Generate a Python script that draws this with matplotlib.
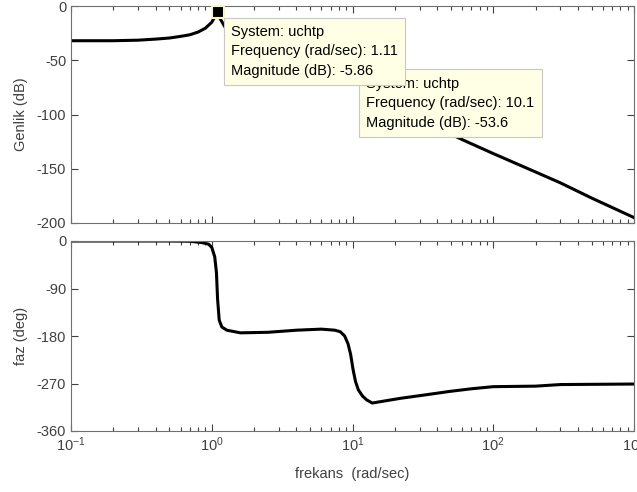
import matplotlib
matplotlib.use("Agg")
import matplotlib.pyplot as plt
import matplotlib.ticker as mticker

plt.rcParams['font.family'] = ['Liberation Sans', 'DejaVu Sans']
plt.rcParams['mathtext.fontset'] = 'custom'
plt.rcParams['mathtext.rm'] = 'Liberation Sans'
plt.rcParams['mathtext.it'] = 'Liberation Sans'
plt.rcParams['axes.unicode_minus'] = False

# magnitude response (rad/sec, dB)
mag_freq = [0.1, 0.2, 0.3, 0.4, 0.5, 0.6, 0.7, 0.8, 0.9, 1.0, 1.05, 1.11,
            1.15, 1.25, 1.5, 2, 3, 5, 7, 10.1, 15, 25, 40, 61, 100, 200,
            300, 500, 1000]
mag_db = [-32, -32, -31.5, -30.5, -29.5, -28, -26.5, -24, -20.5, -15, -10,
          -5.86, -12, -20, -28, -33, -38, -45, -49, -53.6, -70, -95, -112,
          -123.5, -136, -153, -163, -177, -195]

# phase response (rad/sec, deg)
ph_freq = [0.1, 0.5, 0.7, 0.85, 0.95, 1.0, 1.05, 1.08, 1.1, 1.13, 1.18, 1.28,
           1.6, 2.5, 4, 6, 7.5, 8.2, 8.8, 9.3, 9.7, 10.1, 10.5, 11, 11.8,
           12.6, 13.8, 17, 22, 32, 49, 70, 100, 200, 300, 1000]
ph_deg = [0, 0, -0.5, -3, -6, -12, -30, -60, -110, -150, -163, -169, -174,
          -173, -169, -167, -169, -172, -180, -195, -215, -244, -266, -282,
          -294, -301, -307, -303, -298, -292, -285, -280, -276, -275, -272,
          -271]

tips = [(1.11, -5.86), (10.1, -53.6)]
sys_name = 'uchtp'

TXT = '#404040'
EDGE = '#707070'

fig = plt.figure(figsize=(6.37, 4.92), dpi=100)
ax1 = fig.add_axes([71 / 637, 1 - 223 / 492, 563 / 637, 217 / 492])
ax2 = fig.add_axes([71 / 637, 1 - 431 / 492, 563 / 637, 190 / 492])

ax1.plot(mag_freq, mag_db, color='black', lw=2.2, zorder=2)
ax2.plot(ph_freq, ph_deg, color='black', lw=2.2, zorder=2)

for ax in (ax1, ax2):
    ax.set_xscale('log')
    ax.set_xlim(0.1, 1000)
    ax.tick_params(which='both', direction='in', top=True, right=True,
                   colors=TXT, labelsize=10.5, width=0.8)
    ax.tick_params(which='major', length=5)
    ax.tick_params(which='minor', length=3)
    ax.xaxis.set_minor_locator(mticker.LogLocator(base=10, subs=range(2, 10)))
    for sp in ax.spines.values():
        sp.set_color(EDGE)

ax1.set_ylim(-200, 0)
ax1.set_yticks([-200, -150, -100, -50, 0])
ax1.tick_params(axis='x', labelbottom=False)
ax1.set_ylabel('Genlik (dB)', color=TXT, fontsize=10.5, labelpad=6)

ax2.set_ylim(-360, 0)
ax2.set_yticks([-360, -270, -180, -90, 0])
ax2.set_ylabel('faz (deg)', color=TXT, fontsize=10.5, labelpad=6)
ax2.set_xlabel('frekans  (rad/sec)', color=TXT, fontsize=10.5, labelpad=9)

# data tips, second one sits under the first
for i, (f, m) in enumerate(tips):
    z = 5 - i
    ax1.plot([f], [m], marker='s', ms=8, mfc='black', mec='#f5f5c8',
             mew=1.5, zorder=z - 0.5, clip_on=False)
    label = ('System: %s\nFrequency (rad/sec): %s\nMagnitude (dB): %s'
             % (sys_name, f, m))
    ax1.annotate(label, xy=(f, m), xytext=(9.5, -9),
                 textcoords='offset points', ha='left', va='top',
                 fontsize=10.5, color='black', linespacing=1.5, zorder=z,
                 bbox=dict(boxstyle='square,pad=0.5', fc='#ffffe6',
                           ec='#c8c8c8', lw=0.8))

fig.savefig('out.png', dpi=100)
